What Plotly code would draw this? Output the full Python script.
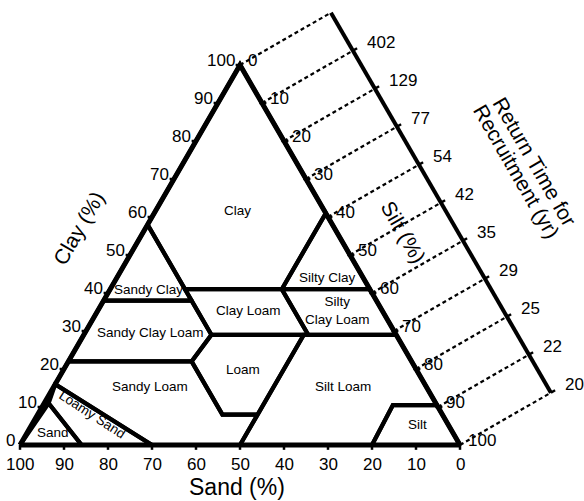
import numpy as np
import plotly.graph_objects as go

# ---------------- data ----------------
sand_ticks = [100, 90, 80, 70, 60, 50, 40, 30, 20, 10, 0]
clay_ticks = [0, 10, 20, 30, 40, 50, 60, 70, 80, 90, 100]
silt_ticks = [0, 10, 20, 30, 40, 50, 60, 70, 80, 90, 100]

# return time for recruitment (yr) read against silt content (%)
return_silt = [10, 20, 30, 40, 50, 60, 70, 80, 90, 100]
return_years = [402, 129, 77, 54, 42, 35, 29, 25, 22, 20]

# texture class outlines as (sand %, clay %) vertices
sand_class = [(100, 0), (86, 0), (88, 11)]
loamy_sand = [(86, 0), (70, 0), (84, 16), (88, 11)]
sandy_loam = [(70, 0), (50, 0), (42, 8), (50, 8), (50, 22), (78, 22), (84, 16)]
sandy_clay_loam = [(78, 22), (50, 22), (42, 29), (42, 38), (62, 38)]
sandy_clay = [(62, 38), (42, 38), (42, 58)]
loam = [(42, 8), (50, 8), (50, 22), (42, 29), (21, 29)]
clay_loam = [(42, 29), (20, 29), (20, 41), (42, 41)]
silty_clay_loam = [(20, 29), (0, 29), (0, 41), (20, 41)]
silty_clay = [(20, 41), (0, 41), (0, 61)]
clay_class = [(42, 58), (42, 41), (20, 41), (0, 61), (0, 100)]
silt_loam = [(50, 0), (20, 0), (10, 10.5), (0, 10.5), (0, 29), (21, 29)]
silt_class = [(20, 0), (0, 0), (0, 10.5), (10, 10.5)]

class_outlines = [sand_class, loamy_sand, sandy_loam, sandy_clay_loam, sandy_clay,
                  loam, clay_loam, silty_clay_loam, silty_clay, clay_class,
                  silt_loam, silt_class]

class_names = ["Clay", "Sandy Clay", "Clay Loam", "Silty Clay", "Silty<br>Clay Loam",
               "Sandy Clay Loam", "Loam", "Sandy Loam", "Silt Loam", "Silt", "Sand",
               "Loamy Sand"]
# where each name sits, as (sand %, clay %), and its rotation
class_label_at = [(19.6, 61.8), (50.5, 40.8), (30.5, 35.3), (8.1, 44.2), (10.1, 35.4),
                  (55.7, 29.5), (39.3, 20.0), (62.8, 15.3), (18.9, 15.3),
                  (7.1, 5.3), (90.9, 3.2), (79.7, 7.9)]
class_label_angle = [0, 0, 0, 0, 0, 0, 0, 0, 0, 0, 0, 33]

# ---------------- geometry helpers ----------------
SQ = np.sqrt(3) / 2
W, H = 584, 501
# plot area in triangle units (bottom edge spans 0..100)
XR = [(0 - 20) / 4.4, (W - 20) / 4.4]
KY = 3.8 / SQ
YR = [(445 - H) / KY, 445 / KY]

PERP = np.array([SQ, 0.5])       # outward normal of the right (silt) edge
OFFSET = 105 / 4.4               # distance of the return-time axis from that edge


def to_xy(sand, clay):
    silt = 100 - sand - clay
    return silt + clay / 2, clay * SQ


def path(points, closed=True):
    pts = list(points) + ([points[0]] if closed else [])
    xs, ys = zip(*[to_xy(s, c) for s, c in pts])
    return list(xs), list(ys)


def silt_edge(silt):
    return np.array(to_xy(0, 100 - silt))


def return_pt(silt):
    return silt_edge(silt) + OFFSET * PERP


def paper(px, py):
    return px / W, 1 - py / H


fig = go.Figure()
FONT = "Liberation Sans, Arial, sans-serif"

# class boundaries
bx, by = [], []
for poly in class_outlines:
    xs, ys = path(poly)
    bx += xs + [None]
    by += ys + [None]
fig.add_trace(go.Scatter(x=bx, y=by, mode="lines", line=dict(color="black", width=4.2),
                         hoverinfo="skip", showlegend=False))

# outer triangle
tx_, ty_ = path([(100, 0), (0, 0), (0, 100)])
fig.add_trace(go.Scatter(x=tx_, y=ty_, mode="lines", line=dict(color="black", width=5),
                         hoverinfo="skip", showlegend=False))

# dashed connectors from the silt axis to the return-time axis
dx, dy = [], []
for s in silt_ticks:
    a, b = silt_edge(s), return_pt(s)
    dx += [a[0], b[0], None]
    dy += [a[1], b[1], None]
fig.add_trace(go.Scatter(x=dx, y=dy, mode="lines",
                         line=dict(color="black", width=2.2, dash="4px,3px"),
                         hoverinfo="skip", showlegend=False))

# return-time axis line
r0, r1 = return_pt(silt_ticks[0]), return_pt(silt_ticks[-1])
fig.add_trace(go.Scatter(x=[r0[0], r1[0]], y=[r0[1], r1[1]], mode="lines",
                         line=dict(color="black", width=4), hoverinfo="skip",
                         showlegend=False))

# tick marks
kx, ky = [], []
for s in sand_ticks:
    x0, y0 = to_xy(s, 0)
    kx += [x0, x0, None]
    ky += [y0, y0 - 1.1, None]
for c in clay_ticks[1:]:
    x0, y0 = to_xy(100 - c, c)
    kx += [x0, x0 - 1.0, None]
    ky += [y0, y0, None]
for s in silt_ticks[1:-1]:
    p = silt_edge(s)
    kx += [p[0] - 0.6, p[0] + 1.0, None]
    ky += [p[1], p[1], None]
for s in return_silt:
    p = return_pt(s)
    q = p + 1.1 * PERP
    kx += [p[0], q[0], None]
    ky += [p[1], q[1], None]
fig.add_trace(go.Scatter(x=kx, y=ky, mode="lines", line=dict(color="black", width=2.5),
                         hoverinfo="skip", showlegend=False))

ann = []
TICK_FONT = dict(family=FONT, size=17, color="black")

for s in sand_ticks:
    x0, y0 = to_xy(s, 0)
    ann.append(dict(x=x0, y=y0, text=str(s), showarrow=False, xanchor="center",
                    yanchor="top", yshift=-8, font=TICK_FONT))
for c in clay_ticks:
    x0, y0 = to_xy(100 - c, c)
    ann.append(dict(x=x0, y=y0, text=str(c), showarrow=False, xanchor="right",
                    yanchor="middle", xshift=-3, yshift=5, font=TICK_FONT))
for s in silt_ticks:
    p = silt_edge(s)
    ann.append(dict(x=p[0], y=p[1], text=str(s), showarrow=False, xanchor="left",
                    yanchor="middle", xshift=6, yshift=5, font=TICK_FONT))
for s, yr in zip(return_silt, return_years):
    p = return_pt(s)
    ann.append(dict(x=p[0], y=p[1], text=str(yr), showarrow=False, xanchor="left",
                    yanchor="middle", xshift=12, yshift=8, font=TICK_FONT))

# class names
for name, (s, c), ang in zip(class_names, class_label_at, class_label_angle):
    x0, y0 = to_xy(s, c)
    ann.append(dict(x=x0, y=y0, text=name, showarrow=False, textangle=ang,
                    xanchor="center", yanchor="middle",
                    font=dict(family=FONT, size=13.5, color="black")))

# axis titles
for text, (px, py), ang, size in [("Sand (%)", (237, 487), 0, 23),
                                  ("Clay (%)", (78, 228), -60, 21),
                                  ("Silt (%)", (404, 232), 60, 21),
                                  ("Return Time for", (535, 161), 60, 21),
                                  ("Recruitment (yr)", (517, 171), 60, 21)]:
    xp, yp = paper(px, py)
    ann.append(dict(x=xp, y=yp, xref="paper", yref="paper", text=text, showarrow=False,
                    textangle=ang, xanchor="center", yanchor="middle",
                    font=dict(family=FONT, size=size, color="black")))

fig.update_layout(
    width=W, height=H, margin=dict(l=0, r=0, t=0, b=0),
    paper_bgcolor="white", plot_bgcolor="white",
    xaxis=dict(range=XR, visible=False, fixedrange=True),
    yaxis=dict(range=YR, visible=False, fixedrange=True),
    annotations=ann, showlegend=False,
)

fig.write_html("out.html")
